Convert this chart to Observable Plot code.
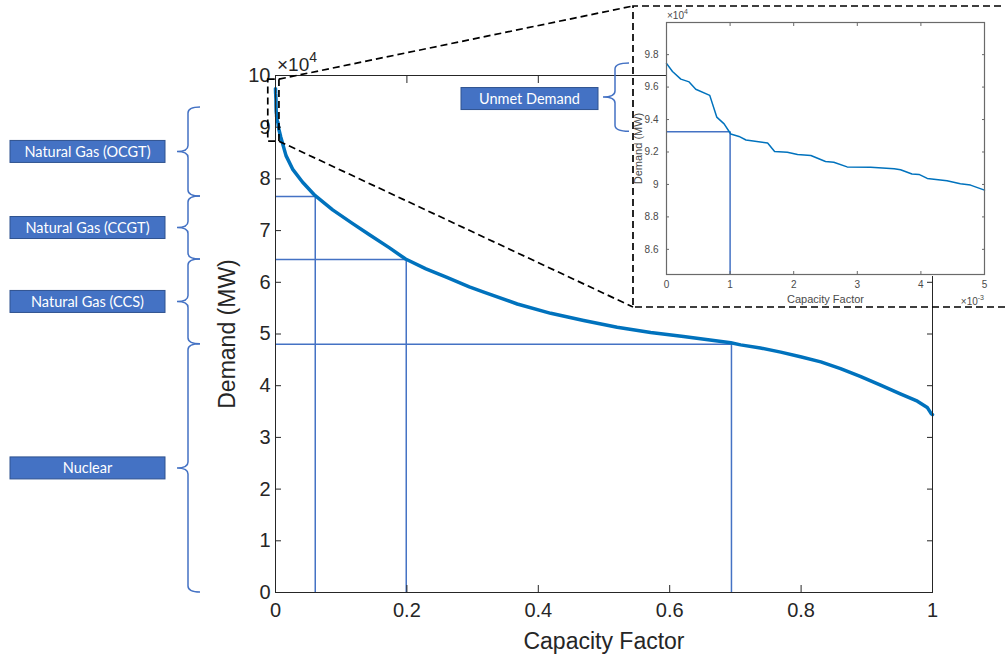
<!DOCTYPE html>
<html><head><meta charset="utf-8">
<script src="https://cdn.jsdelivr.net/npm/d3@7"></script>
<script src="https://cdn.jsdelivr.net/npm/@observablehq/plot@0.6"></script>
<style>
body{margin:0;background:#fff;}
#wrap{position:relative;width:1005px;height:658px;overflow:hidden;background:#fff;}
#wrap > svg{position:absolute;left:0;top:0;}
</style></head><body><div id="wrap"></div>
<script>
// ---- data (load duration curve) ----
const capacityFactor = [
  0, 0.000094, 0.000225, 0.000356, 0.00046, 0.00068, 0.00079, 0.000906, 0.00101, 0.00114,
  0.00125, 0.00159, 0.0017, 0.0019, 0.00206, 0.00227, 0.0025, 0.00263, 0.00284, 0.00321,
  0.00358, 0.00368, 0.00386, 0.00397, 0.0041, 0.00441, 0.00462, 0.00478, 0.005,
  0.008, 0.016, 0.026, 0.041, 0.060, 0.087, 0.117, 0.143, 0.173, 0.198,
  0.229, 0.260, 0.295, 0.317, 0.368, 0.419, 0.469, 0.520, 0.571, 0.621,
  0.693, 0.708, 0.738, 0.769, 0.799, 0.830, 0.860, 0.890, 0.921, 0.951,
  0.977, 0.992, 0.998, 1.0
];
const demandMW = [
  97460, 96960, 96490, 96320, 95870, 95490, 94150, 93730, 93110, 92960,
  92740, 92550, 92030, 91990, 91840, 91780, 91410, 91370, 91080, 91060,
  90970, 90910, 90640, 90620, 90370, 90230, 90040, 89960, 89650,
  88100, 84500, 81900, 79400, 76800, 74000, 71400, 69200, 66700, 64500,
  62600, 61000, 59100, 58100, 55800, 54000, 52600, 51300, 50300, 49500,
  48300, 47900, 47300, 46500, 45600, 44600, 43300, 41800, 40100, 38400,
  37000, 35800, 34600, 34400
];
const technologies = ["Unmet Demand", "Natural Gas (OCGT)", "Natural Gas (CCGT)", "Natural Gas (CCS)", "Nuclear"];
const thresholdCF = [0.001, 0.0605, 0.199, 0.694];
const thresholdMW = [93250, 76600, 64400, 48000];
const xTicks = [0, 0.2, 0.4, 0.6, 0.8, 1];
const yTicks = [0, 10000, 20000, 30000, 40000, 50000, 60000, 70000, 80000, 90000, 100000];
const insetXTicks = [0, 0.001, 0.002, 0.003, 0.004, 0.005];
const insetYTicks = [86000, 88000, 90000, 92000, 94000, 96000, 98000];
const insetDomainX = [0, 0.005];
const insetDomainY = [84450, 99980];
const zoomBoxCF = [-0.011, 0.006];
const zoomBoxMW = [87200, 99200];

const curve = capacityFactor.map((cf, i) => ({cf, mw: demandMW[i]}));
const thresholds = thresholdCF.map((cf, i) => ({cf, mw: thresholdMW[i]}));
const mainThr = thresholds.slice(1);
const insetThr = thresholds.slice(0, 1);
const insetCurve = curve.filter(d => d.cf <= insetDomainX[1]);

const BLUE = "#0072BD", REF = "#4472C4", BOX = "#4472C4", BOXSTROKE = "#2F528F";
const wrap = document.getElementById("wrap");

function cleanTexts(svg) {
  d3.select(svg).selectAll("text").each(function () {
    const t = this.textContent;
    if (/[↑→↓←]/.test(t)) this.textContent = t.replace(/\s*[↑→↓←]\s*/g, "").trim();
    if (this.textContent.trim() === "") d3.select(this).remove();
  });
}

// ---- main chart ----
const main = Plot.plot({
  width: 1005, height: 658,
  marginLeft: 275, marginRight: 73, marginTop: 75, marginBottom: 66,
  style: {background: "transparent", fontFamily: "'Liberation Sans', Arial, sans-serif", fontSize: "20px", color: "#262626", overflow: "visible"},
  x: {domain: [0, 1]},
  y: {domain: [0, 100000]},
  marks: [
    Plot.ruleY(mainThr, {y: "mw", x1: 0, x2: "cf", stroke: REF, strokeWidth: 1.5}),
    Plot.ruleX(mainThr, {x: "cf", y1: 0, y2: "mw", stroke: REF, strokeWidth: 1.5}),
    Plot.line(curve, {x: "cf", y: "mw", stroke: BLUE, strokeWidth: 3.5}),
    Plot.frame({stroke: "#262626", strokeWidth: 1}),
    Plot.axisX({ticks: xTicks, tickSize: -7, tickPadding: 17, tickFormat: d => d3.format("~g")(d),
      label: "Capacity Factor", labelArrow: "none", labelAnchor: "center", labelOffset: 56}),
    Plot.axisX({anchor: "top", ticks: xTicks, tickSize: -7, tickFormat: () => "", label: null}),
    Plot.axisY({ticks: yTicks, tickSize: -6, tickPadding: 11, tickFormat: d => d3.format("~g")(d / 1e4),
      label: "Demand (MW)", labelArrow: "none", labelAnchor: "center", labelOffset: 57}),
    Plot.axisY({anchor: "right", ticks: yTicks, tickSize: -6, tickFormat: () => "", label: null})
  ]
});
wrap.appendChild(main);
cleanTexts(main);

// enlarge axis titles
d3.select(main).selectAll("g[aria-label='x-axis label'] text, g[aria-label='y-axis label'] text").style("font-size", "23px");

const mx = main.scale("x"), my = main.scale("y");
const ms = d3.select(main);

// exponent label
const exp = ms.append("text").attr("x", mx.apply(0) + 2).attr("y", my.apply(100000) - 4)
  .attr("text-anchor", "start")
  .attr("fill", "#262626").style("font-size", "19px").style("font-family", "'Liberation Sans', Arial, sans-serif");
exp.append("tspan").text("×10");
exp.append("tspan").attr("dy", -9).style("font-size", "14px").text("4");

function brace(xEnd, xMid, xTip, y1, y2) {
  const ym = (y1 + y2) / 2, r = Math.min(6, (y2 - y1) / 4);
  return `M${xEnd},${y1} Q${xMid},${y1} ${xMid},${y1 + r} L${xMid},${ym - r} Q${xMid},${ym} ${xTip},${ym}` +
         ` Q${xMid},${ym} ${xMid},${ym + r} L${xMid},${y2 - r} Q${xMid},${y2} ${xEnd},${y2}`;
}
function labelBox(sel, x0, w, yc, txt) {
  sel.append("rect").attr("x", x0).attr("y", yc - 11).attr("width", w).attr("height", 22)
    .attr("fill", BOX).attr("stroke", BOXSTROKE).attr("stroke-width", 1);
  sel.append("text").attr("x", x0 + w / 2).attr("y", yc).attr("dy", "0.35em").attr("text-anchor", "middle")
    .attr("fill", "white").style("font-family", "Lato, 'Open Sans', sans-serif").style("font-size", "14.5px").text(txt);
}

// left annotations: generation technology bands
const bounds = [...thresholdMW, 0];
const ann = ms.append("g");
for (let i = 1; i < technologies.length; i++) {
  const y1 = my.apply(bounds[i - 1]) - (i === 1 ? 3 : 0), y2 = my.apply(bounds[i]);
  ann.append("path").attr("d", brace(200, 188, 177, y1, y2)).attr("fill", "none").attr("stroke", REF).attr("stroke-width", 1.5);
  labelBox(ann, 10, 155, (y1 + y2) / 2, technologies[i]);
}

// ---- inset chart (overlay, same page coordinates) ----
const inset = Plot.plot({
  width: 1005, height: 658,
  marginLeft: 666, marginRight: 21, marginTop: 22, marginBottom: 384,
  style: {background: "transparent", fontFamily: "'Liberation Sans', Arial, sans-serif", fontSize: "10px", color: "#4a4a4a", overflow: "visible"},
  x: {domain: insetDomainX},
  y: {domain: insetDomainY},
  marks: [
    Plot.ruleY(insetThr, {y: "mw", x1: 0, x2: "cf", stroke: REF, strokeWidth: 1.5}),
    Plot.ruleX(insetThr, {x: "cf", y1: insetDomainY[0], y2: "mw", stroke: REF, strokeWidth: 1.5}),
    Plot.line(insetCurve, {x: "cf", y: "mw", stroke: BLUE, strokeWidth: 1.5}),
    Plot.frame({stroke: "#6a6a6a", strokeWidth: 1.2}),
    Plot.axisX({ticks: insetXTicks, tickSize: -3, tickPadding: 9, tickFormat: d => d3.format("~g")(Math.round(d * 1e5) / 100),
      label: "Capacity Factor", labelArrow: "none", labelAnchor: "center", labelOffset: 28, stroke: "#6a6a6a"}),
    Plot.axisX({anchor: "top", ticks: insetXTicks, tickSize: -3, tickFormat: () => "", label: null, stroke: "#6a6a6a"}),
    Plot.axisY({ticks: insetYTicks, tickSize: -3, tickPadding: 11, tickFormat: d => d3.format("~g")(d / 1e4),
      label: "Demand (MW)", labelArrow: "none", labelAnchor: "center", labelOffset: 32, stroke: "#6a6a6a"}),
    Plot.axisY({anchor: "right", ticks: insetYTicks, tickSize: -3, tickFormat: () => "", label: null, stroke: "#6a6a6a"})
  ]
});
wrap.appendChild(inset);
cleanTexts(inset);
const is = d3.select(inset);
const ix = inset.scale("x"), iy = inset.scale("y");
const fL = ix.apply(insetDomainX[0]), fR = ix.apply(insetDomainX[1]);
const fT = iy.apply(insetDomainY[1]), fB = iy.apply(insetDomainY[0]);
is.selectAll("g[aria-label='x-axis label'] text, g[aria-label='y-axis label'] text").style("font-size", "11px");
// white backdrop for inset
is.insert("rect", ":first-child").attr("x", fL + 1).attr("y", 0).attr("width", 1005 - fL).attr("height", fB + 2).attr("fill", "white");

// exponent labels of inset
const e1 = is.append("text").attr("x", fL + 1).attr("y", fT - 3).attr("text-anchor", "start").attr("fill", "#4a4a4a").style("font-size", "10px");
e1.append("tspan").text("×10");
e1.append("tspan").attr("dy", -5).style("font-size", "7px").text("4");
const e2 = is.append("text").attr("x", fR).attr("y", fB + 31).attr("text-anchor", "end").attr("fill", "#4a4a4a").style("font-size", "10px");
e2.append("tspan").text("×10");
e2.append("tspan").attr("dy", -5).style("font-size", "7px").text("-3");

// unmet demand annotation
{
  const y1 = iy.apply(demandMW[0]), y2 = iy.apply(thresholdMW[0]);
  is.append("path").attr("d", brace(629, 615, 603, y1, y2)).attr("fill", "none").attr("stroke", REF).attr("stroke-width", 1.5);
  labelBox(is, 461, 137, (y1 + y2) / 2 + 1.5, technologies[0]);
}

// dashed zoom box, inset box and connectors
const zx1 = mx.apply(zoomBoxCF[0]), zx2 = mx.apply(zoomBoxCF[1]);
const zy1 = my.apply(zoomBoxMW[1]), zy2 = my.apply(zoomBoxMW[0]);
const bL = fL - 33, bT = fT - 16, bB = fB + 33;
const dash = {stroke: "black", "stroke-width": 1.7, "stroke-dasharray": "7,4", fill: "none"};
function dashed(d) { const p = is.append("path").attr("d", d); for (const k in dash) p.attr(k, dash[k]); }
dashed(`M${zx1},${zy1} H${zx2} V${zy2} H${zx1} Z`);
dashed(`M1012,${bT} H${bL} V${bB} H1012`);
dashed(`M${zx2},${zy1} L${bL},${bT}`);
dashed(`M${zx2},${zy2} L${bL},${bB}`);
</script></body></html>
